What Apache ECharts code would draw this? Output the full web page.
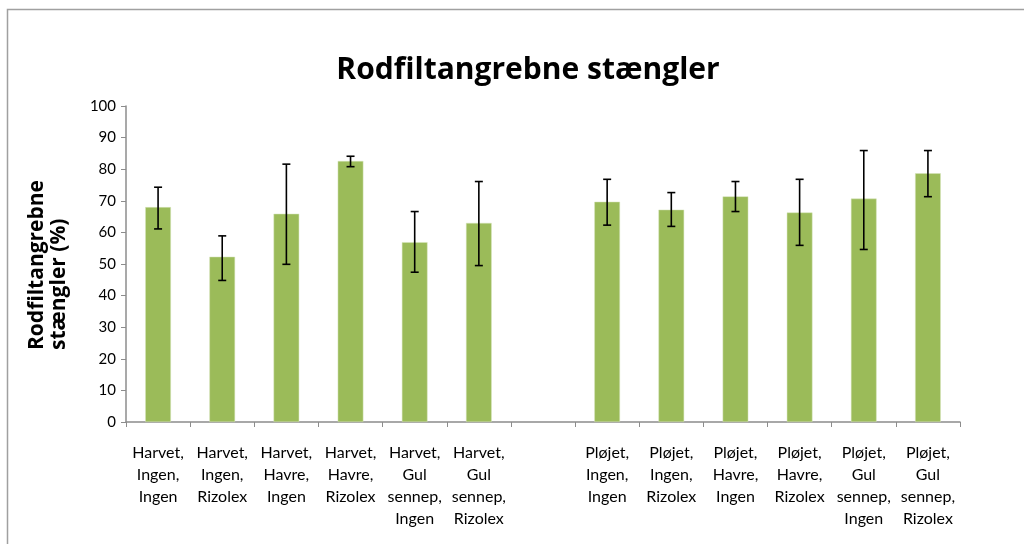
<!DOCTYPE html>
<html>
<head>
<meta charset="utf-8">
<script src="https://cdn.jsdelivr.net/npm/echarts@6/dist/echarts.min.js"></script>
<style>
html,body{margin:0;padding:0;background:#fff;}
#chart{width:1024px;height:544px;}
</style>
</head>
<body>
<div id="chart"></div>
<script>
var categories = [
    'Harvet,\nIngen,\nIngen', 'Harvet,\nIngen,\nRizolex', 'Harvet,\nHavre,\nIngen',
    'Harvet,\nHavre,\nRizolex', 'Harvet,\nGul\nsennep,\nIngen', 'Harvet,\nGul\nsennep,\nRizolex',
    '',
    'Pløjet,\nIngen,\nIngen', 'Pløjet,\nIngen,\nRizolex', 'Pløjet,\nHavre,\nIngen',
    'Pløjet,\nHavre,\nRizolex', 'Pløjet,\nGul\nsennep,\nIngen', 'Pløjet,\nGul\nsennep,\nRizolex'
];
var values  = [68.0, 52.3, 65.9, 82.6, 56.9, 63.0, '-', 69.7, 67.2, 71.4, 66.3, 70.7, 78.7];
var errLow  = [61.1, 44.8, 49.9, 80.8, 47.4, 49.5, null, 62.3, 61.9, 66.6, 55.9, 54.6, 71.3];
var errHigh = [74.3, 58.9, 81.6, 84.1, 66.6, 76.1, null, 76.8, 72.6, 76.1, 76.8, 85.9, 85.9];
var yTicks = {min: 0, max: 100, interval: 10};

var chart = echarts.init(document.getElementById('chart'));

var errData = [];
for (var i = 0; i < categories.length; i++) {
    if (errLow[i] != null) errData.push([i, errLow[i], errHigh[i]]);
}

var option = {
    animation: false,
    textStyle: {fontFamily: 'Lato'},
    title: {
        text: 'Rodfiltangrebne stængler',
        left: 523, top: 50, textAlign: 'center',
        textStyle: {fontSize: 30, fontWeight: 'bold', color: '#000', fontFamily: 'Open Sans'}
    },
    graphic: [
        {type: 'rect', shape: {x: 7.5, y: 9.5, width: 1030, height: 550},
         style: {fill: 'none', stroke: '#a0a0a0', lineWidth: 1.5}, silent: true},
        {type: 'text', left: 26, top: 180, rotation: Math.PI / 2,
         style: {text: 'Rodfiltangrebne\nstængler (%)', fontSize: 21, fontWeight: 'bold',
                 fontFamily: 'Open Sans', fill: '#000', align: 'center', lineHeight: 22}}
    ],
    grid: {left: 126, right: 64, top: 106, bottom: 122},
    xAxis: {
        type: 'category',
        data: categories,
        axisLine: {lineStyle: {color: '#8c8c8c', width: 1.5}},
        axisTick: {show: true, length: 5, lineStyle: {color: '#8c8c8c'}},
        axisLabel: {interval: 0, color: '#000', fontSize: 16, lineHeight: 22, margin: 20, align: 'center'}
    },
    yAxis: {
        type: 'value',
        min: yTicks.min, max: yTicks.max, interval: yTicks.interval,
        splitLine: {show: false},
        axisLine: {show: true, lineStyle: {color: '#8c8c8c', width: 1.5}},
        axisTick: {show: true, length: 5, lineStyle: {color: '#8c8c8c'}},
        axisLabel: {color: '#000', fontSize: 15, margin: 10}
    },
    series: [
        {
            type: 'bar',
            data: values,
            barWidth: '40%',
            itemStyle: {color: '#9bbb59', borderColor: '#d7e4bd', borderWidth: 0.5}
        },
        {
            type: 'custom',
            data: errData,
            encode: {x: 0, y: [1, 2]},
            z: 10,
            renderItem: function (params, api) {
                var x = api.value(0);
                var lo = api.coord([x, api.value(1)]);
                var hi = api.coord([x, api.value(2)]);
                var cap = 4;
                var st = {stroke: '#000', lineWidth: 1.6};
                return {
                    type: 'group',
                    children: [
                        {type: 'line', shape: {x1: lo[0], y1: lo[1], x2: hi[0], y2: hi[1]}, style: st},
                        {type: 'line', shape: {x1: hi[0] - cap, y1: hi[1], x2: hi[0] + cap, y2: hi[1]}, style: st},
                        {type: 'line', shape: {x1: lo[0] - cap, y1: lo[1], x2: lo[0] + cap, y2: lo[1]}, style: st}
                    ]
                };
            }
        }
    ]
};
chart.setOption(option);
</script>
</body>
</html>
